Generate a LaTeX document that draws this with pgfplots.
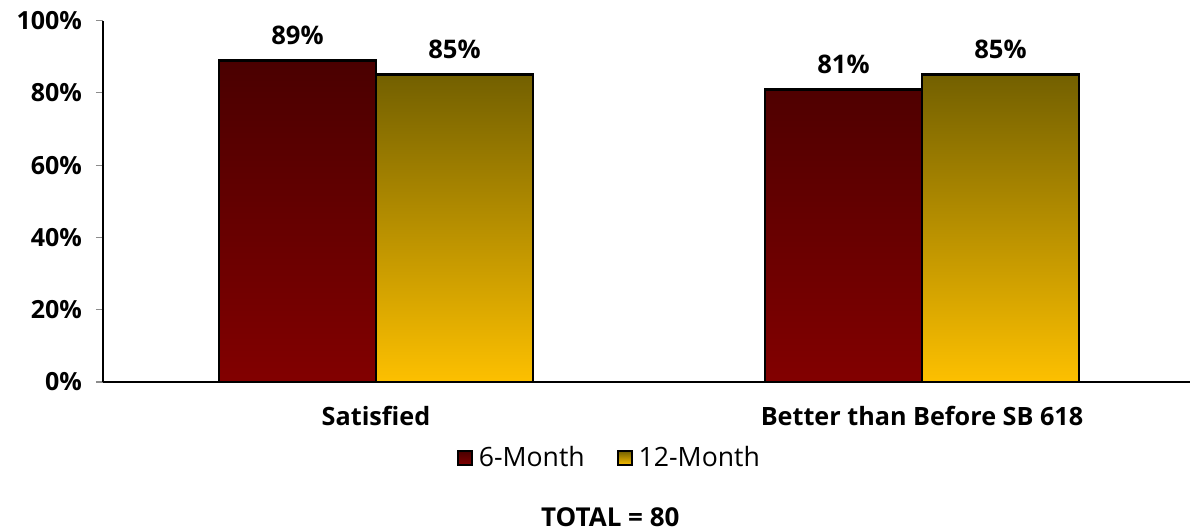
\documentclass[border=0pt]{standalone}
\usepackage{pgfplots}
\pgfplotsset{compat=1.18}
\usepackage{fontspec}
\setmainfont{Open Sans}

\definecolor{redtop}{HTML}{4A0000}
\definecolor{redbot}{HTML}{820000}
\definecolor{goldtop}{HTML}{736000}
\definecolor{goldbot}{HTML}{FDC000}
\definecolor{tickgrey}{HTML}{8C8C8C}

\begin{document}
\begin{tikzpicture}
% page frame (1 px = 0.5 pt), origin at the lower-left corner of the axis
\useasboundingbox (-51.5pt,-74.5pt) rectangle (543.5pt,191pt);
\begin{axis}[
  at={(0,0)}, anchor=south west,
  scale only axis,
  width=546pt, height=180.75pt,
  xmin=-0.5, xmax=1.5,
  ymin=0, ymax=100,
  axis x line*=bottom,
  axis y line*=left,
  axis line style={black, line width=0.6pt},
  xtick={0,1},
  xticklabels={Satisfied, Better than Before SB 618},
  x tick label style={font=\bfseries\fontsize{12.6}{15}\selectfont, yshift=-5pt},
  major x tick style={draw=none},
  extra x ticks={-0.5,0.5,1.5},
  extra x tick labels={},
  extra x tick style={major tick length=4pt, tick style={tickgrey, line width=0.6pt}, tick align=outside},
  ytick={0,20,...,100},
  yticklabel={\pgfmathprintnumber{\tick}\%},
  y tick label style={font=\bfseries\fontsize{12.5}{15}\selectfont, /pgf/number format/assume math mode=true, xshift=-3.5pt},
  ytick style={tickgrey, line width=0.6pt},
  tick align=outside,
  major tick length=3.5pt,
  ybar,
  bar width=0.2875,
  nodes near coords={\pgfmathprintnumber[assume math mode=true]{\pgfplotspointmeta}\%},
  every node near coord/.append style={font=\bfseries\fontsize{12.8}{15}\selectfont, black, anchor=base, inner sep=0pt, yshift=8pt},
  legend style={at={(axis description cs:0.4646,-0.21)}, anchor=center, draw=none, fill=none,
    font=\fontsize{13.3}{15}\selectfont, legend columns=2,
    /tikz/every even column/.append style={column sep=14pt},
    /tikz/every odd column/.append style={column sep=1pt}},
  legend image code/.code={\draw[#1, line width=1pt] (0pt,-3.6pt) rectangle (7pt,3.4pt);},
  clip=false,
]
\addplot[bar shift=-0.14375, draw=black, line width=1.4pt, top color=redtop, bottom color=redbot]
  coordinates {(0,89) (1,81)};
\addplot[bar shift=0.14375, draw=black, line width=1.4pt, top color=goldtop, bottom color=goldbot]
  coordinates {(0,85) (1,85)};
\legend{6-Month, 12-Month}
\node[font=\bfseries\fontsize{13}{15}\selectfont] at (axis description cs:0.4646,-0.375) {TOTAL = 80};
\end{axis}
\end{tikzpicture}
\end{document}
